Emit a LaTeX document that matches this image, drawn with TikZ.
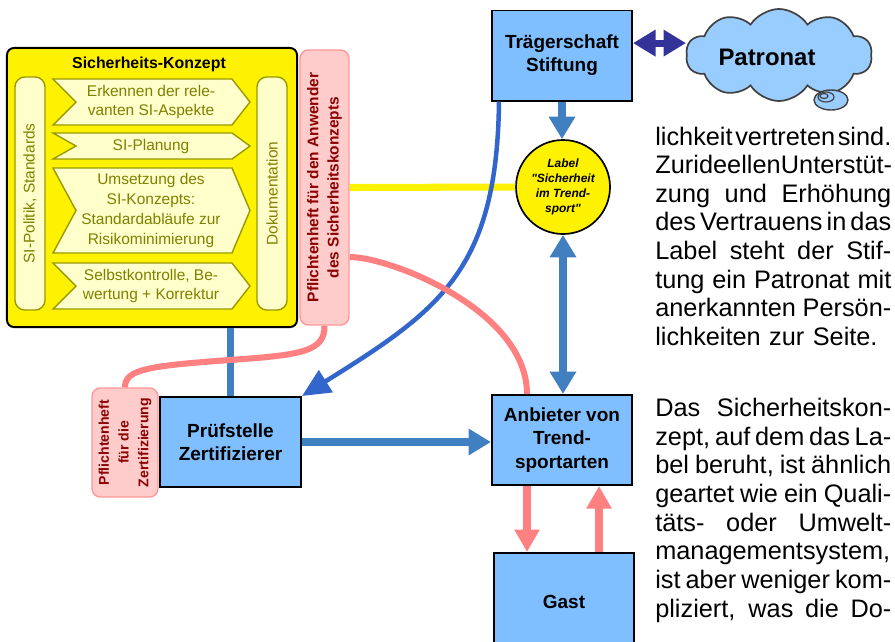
\documentclass[tikz,border=0pt]{standalone}
\usepackage{fontspec}
\setmainfont{Liberation Sans}[Ligatures=TeXOff]
\usepackage{tikz}
\usetikzlibrary{arrows.meta,calc,positioning,shapes.symbols}
\usepackage{xcolor}

\definecolor{boxblue}{HTML}{80BFFF}
\definecolor{cloudblue}{HTML}{99CCFF}
\definecolor{flowblue}{HTML}{4080C0}
\definecolor{bendblue}{HTML}{3366CC}
\definecolor{deepblue}{HTML}{333399}
\definecolor{pinkline}{HTML}{FF8080}
\definecolor{pinkfill}{HTML}{FFCCCC}
\definecolor{pinkrim}{HTML}{FF9999}
\definecolor{heftred}{HTML}{8B0000}
\definecolor{olivrim}{HTML}{999900}
\definecolor{olivtext}{HTML}{808000}
\definecolor{paleyellow}{HTML}{FFFFCC}

% one justified line of the text column
\newcommand{\jl}[1]{\leavevmode\hbox to 5.9cm{\spaceskip=0.25em plus 1em minus 0.24em\relax #1}}

\begin{document}
\begin{tikzpicture}[x=0.025cm,y=-0.025cm,
    konzept/.style={draw=black,line width=1.4pt,fill=yellow,rounded corners=5pt,
      minimum width=7.25cm,minimum height=6.975cm},
    strip/.style={draw=olivrim,fill=paleyellow,line width=1pt,rounded corners=7pt,
      text=olivtext,font=\fontsize{11}{14}\selectfont,rotate=90,
      minimum width=5.825cm,minimum height=0.75cm,inner sep=0pt},
    chevron/.style={draw=olivrim,fill=paleyellow,line width=1pt},
    chevtext/.style={text=olivtext,align=center,font=\fontsize{11}{14}\selectfont},
    heft/.style={draw=pinkrim,fill=pinkfill,line width=1pt,rounded corners=6pt,
      rotate=90,text=heftred,align=center,inner sep=0pt},
    box/.style={draw=black,line width=1.4pt,fill=boxblue,align=center,
      font=\fontsize{13.5}{16.5}\selectfont\bfseries,
      minimum width=3.5cm,minimum height=2.25cm,inner sep=2pt},
    badge/.style={circle,draw=black,line width=1.2pt,fill=yellow,minimum size=2.35cm,
      inner sep=0pt,align=center,font=\fontsize{8.5}{10.7}\selectfont\bfseries\itshape},
    bodytext/.style={anchor=base west,text width=5.9cm,inner sep=0pt,align=left,
      font=\fontsize{18}{20.35}\selectfont},
    blueflow/.style={draw=flowblue,line width=5.5pt,-{Triangle[length=16pt,width=18pt]}},
    pinkflow/.style={draw=pinkline,line width=5.3pt,-{Triangle[length=16pt,width=17pt]}},
    pinkbend/.style={draw=pinkline,line width=4.3pt},
    bothtips/.style={{Triangle[length=16pt,width=18pt]}-{Triangle[length=16pt,width=18pt]}}
  ]
  \useasboundingbox (0,0) rectangle (895,641);

  % Sicherheits-Konzept
  \node[konzept] (konzept) at (152,187.5) {};
  \node[font=\fontsize{11.3}{13}\selectfont\bfseries] (titel) at (149,64) {Sicherheits-Konzept};
  \node[strip] (politik) at (30,193.5) {SI-Politik, Standards};
  \node[strip] (doku) at (272,193.5) {Dokumentation};
  \foreach \ya/\yb/\txt [count=\i] in {79/125/{Erkennen der rele-\\vanten SI-Aspekte},
      133/159/{SI-Planung},
      168/253/{Umsetzung des\\SI-Konzepts:\\Standardabläufe zur\\Risikominimierung},
      263/309/{Selbstkontrolle, Be-\\wertung + Korrektur}}{
    \draw[chevron] (53,\ya) -- (232,\ya) -- (250,{(\ya+\yb)/2}) -- (232,\yb)
      -- (53,\yb) -- (76,{(\ya+\yb)/2}) -- cycle;
    \node[chevtext] (schritt\i) at (151,{(\ya+\yb)/2}) {\txt};
  }

  % Pflichtenhefte
  \node[heft,minimum width=6.875cm,minimum height=1.225cm,
    font=\fontsize{11}{14.5}\selectfont\bfseries] (anwender) at (324.5,187.5)
    {Pflichtenheft für den Anwender\\des Sicherheitskonzepts};
  \node[heft,minimum width=2.725cm,minimum height=1.65cm,
    font=\fontsize{10}{14}\selectfont\bfseries] (zertheft) at (125,442.5)
    {Pflichtenheft\\für die\\Zertifizierung};

  % Boxes
  \node[box] (traeger) at (562,55.5) {Trägerschaft\\Stiftung};
  \node[box,minimum width=3.525cm] (pruef) at (230.5,442) {Prüfstelle\\Zertifizierer};
  \node[box] (anbieter) at (562,440) {Anbieter von\\Trend-\\sportarten};
  \node[box,minimum height=2.45cm] (gast) at (564,602) {Gast};
  \node[badge] (siegel) at (563,187) {Label\\"Sicherheit\\im Trend-\\sport"};

  % Patronat cloud
  \node[cloud,cloud puffs=10,cloud puff arc=115,draw=black!75,fill=cloudblue,line width=1.2pt,
    minimum width=4.65cm,minimum height=2.3cm,inner sep=0pt] (patronat) at (779,55) {};
  \node[font=\fontsize{17}{20}\selectfont\bfseries] (patronatname) at (767,57) {Patronat};
  \draw[draw=black!75,fill=cloudblue,line width=1pt] (831,100) ellipse [x radius=17,y radius=10];
  \draw[draw=black!75,line width=0.8pt] (826,97) ellipse [x radius=8,y radius=5];
  \draw[draw=black!75,line width=0.8pt] (824,96) ellipse [x radius=4,y radius=2.5];

  % connectors
  \draw[draw=yellow,line width=5pt] (anwender.south) -- (siegel.west);
  \draw[draw=deepblue,line width=5pt,bothtips] ([yshift=0.31cm]traeger.east)
    -- ([yshift=0.31cm]traeger.east -| patronat.west);
  \draw[blueflow] (traeger.south) -- (traeger.south |- siegel.north);
  \draw[blueflow,bothtips] (siegel.south) -- (siegel.south |- anbieter.north);
  \draw[blueflow,-] (pruef.north |- konzept.south) -- (pruef.north);
  \draw[blueflow] (pruef.east) -- (pruef.east -| anbieter.west);
  \draw[draw=bendblue,line width=3.2pt,-{Triangle[length=20pt,width=18pt]}]
    ([xshift=0.2cm]traeger.south west) .. controls (497,270) and (440,310) .. (pruef.north east);
  \coordinate (knick) at (0,257);
  \draw[pinkbend] (anwender.south |- knick) .. controls (390,257) and (527,310)
    .. ([xshift=-0.875cm]anbieter.north);
  \draw[pinkbend] (anwender.west) .. controls (325,352) and (300,355) .. (230,360)
    .. controls (145,366) and (125,370) .. (zertheft.east);
  \draw[pinkflow] ([xshift=-0.875cm]anbieter.south) -- ([xshift=-0.875cm]anbieter.south |- gast.north);
  \draw[pinkflow] ([xshift=0.925cm]anbieter.south |- gast.north) -- ([xshift=0.925cm]anbieter.south);

  % text column
  \node[bodytext] (absatz1) at (655,145) {\jl{lichkeit vertreten sind.}\\
    \jl{Zur ideellen Unterstüt-}\\
    \jl{zung und Erhöhung}\\
    \jl{des Vertrauens in das}\\
    \jl{Label steht der Stif-}\\
    \jl{tung ein Patronat mit}\\
    \jl{anerkannten Persön-}\\
    lichkeiten zur Seite.};
  \node[bodytext] (absatz2) at (655,416.7) {\jl{Das Sicherheitskon-}\\
    \jl{zept, auf dem das La-}\\
    \jl{bel beruht, ist ähnlich}\\
    \jl{geartet wie ein Quali-}\\
    \jl{täts- oder Umwelt-}\\
    \jl{managementsystem,}\\
    \jl{ist aber weniger kom-}\\
    \jl{pliziert, was die Do-}};
\end{tikzpicture}
\end{document}
